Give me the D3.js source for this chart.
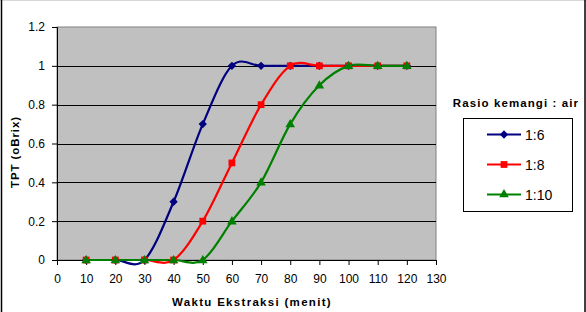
<!DOCTYPE html>
<html>
<head>
<meta charset="utf-8">
<script src="https://cdn.jsdelivr.net/npm/d3@7"></script>
<style>
  body { margin: 0; background: #fff; }
  text { font-family: "Liberation Sans", Arial, sans-serif; }
</style>
</head>
<body>
<div class="chart"></div>
<script>
var svgWidth = 586;
var svgHeight = 312;

// data
var waktu = [10, 20, 30, 40, 50, 60, 70, 80, 90, 100, 110, 120];
var rasio16 = [0, 0, 0, 0.3, 0.7, 1.0, 1.0, 1.0, 1.0, 1.0, 1.0, 1.0];
var rasio18 = [0, 0, 0, 0, 0.2, 0.5, 0.8, 1.0, 1.0, 1.0, 1.0, 1.0];
var rasio110 = [0, 0, 0, 0, 0, 0.2, 0.4, 0.7, 0.9, 1.0, 1.0, 1.0];
var seriesNames = ["1:6", "1:8", "1:10"];
var xTicks = d3.range(0, 131, 10);
var yTicks = [0, 0.2, 0.4, 0.6, 0.8, 1, 1.2];

var series = [
  { name: seriesNames[0], values: rasio16, color: "#000080", symbol: d3.symbolDiamond2, size: 44 },
  { name: seriesNames[1], values: rasio18, color: "#FF0000", symbol: d3.symbolSquare, size: 46 },
  { name: seriesNames[2], values: rasio110, color: "#008000", symbol: d3.symbolTriangle, size: 40 }
];

var plot = { left: 57, top: 27, right: 436, bottom: 260 };

var svg = d3.select(".chart")
  .append("svg")
  .attr("width", svgWidth)
  .attr("height", svgHeight);

// chart area border
svg.append("line").attr("x1", 0).attr("x2", svgWidth).attr("y1", 0.5).attr("y2", 0.5)
  .attr("stroke", "#d8d8d8");
svg.append("line").attr("x1", 1.5).attr("x2", 1.5).attr("y1", 0).attr("y2", svgHeight)
  .attr("stroke", "#000").attr("stroke-width", 1.5);
svg.append("line").attr("x1", 585).attr("x2", 585).attr("y1", 0).attr("y2", svgHeight)
  .attr("stroke", "#000").attr("stroke-width", 1.5);

var x = d3.scaleLinear().domain([0, 130]).range([plot.left, plot.right]);
var y = d3.scaleLinear().domain([0, 1.2]).range([plot.bottom, plot.top]);

// plot area
svg.append("rect")
  .attr("x", plot.left)
  .attr("y", plot.top)
  .attr("width", plot.right - plot.left)
  .attr("height", plot.bottom - plot.top)
  .attr("fill", "#C0C0C0")
  .attr("stroke", "#808080")
  .attr("stroke-width", 1);

// gridlines
svg.append("g")
  .selectAll("line")
  .data(yTicks.filter(d => d > 0 && d < 1.2))
  .enter()
  .append("line")
  .attr("x1", plot.left)
  .attr("x2", plot.right)
  .attr("y1", d => Math.round(y(d)) + 0.5)
  .attr("y2", d => Math.round(y(d)) + 0.5)
  .attr("stroke", "#000")
  .attr("stroke-width", 1);

// axes
var bottomAxis = d3.axisBottom(x).tickValues(xTicks).tickSize(5).tickPadding(9).tickFormat(d3.format("d"));
var leftAxis = d3.axisLeft(y).tickValues(yTicks).tickSize(5).tickPadding(7).tickFormat(d => d3.format("")(d));

var gx = svg.append("g")
  .attr("transform", `translate(0, ${plot.bottom})`)
  .call(bottomAxis);
var gy = svg.append("g")
  .attr("transform", `translate(${plot.left}, 0)`)
  .call(leftAxis);

[gx, gy].forEach(function(g) {
  g.select(".domain").attr("stroke", "#000");
  g.selectAll(".tick line").attr("stroke", "#000");
  g.selectAll(".tick text")
    .attr("fill", "#000")
    .style("font-size", "12px")
    .style("font-family", "'Liberation Sans', Arial, sans-serif");
});
gx.select(".domain").attr("d", `M${plot.left},0.5H${plot.right}`);

// lines
var line = d3.line()
  .x((d, i) => x(waktu[i]))
  .y(d => y(d))
  .curve(d3.curveCatmullRom.alpha(0));

series.forEach(function(s) {
  svg.append("path")
    .datum(s.values)
    .attr("fill", "none")
    .attr("stroke", s.color)
    .attr("stroke-width", 2.2)
    .attr("d", line);
});

series.forEach(function(s) {
  svg.append("g")
    .selectAll("path")
    .data(s.values)
    .enter()
    .append("path")
    .attr("transform", (d, i) => `translate(${x(waktu[i])}, ${y(d) + (s.symbol === d3.symbolTriangle ? 0.5 : 0)})`)
    .attr("d", d3.symbol().type(s.symbol).size(s.size))
    .attr("fill", s.color);
});

// axis titles
svg.append("text")
  .attr("x", 252)
  .attr("y", 306)
  .attr("text-anchor", "middle")
  .style("font-size", "11.5px")
  .style("font-weight", "bold")
  .style("letter-spacing", "1.3px")
  .text("Waktu Ekstraksi (menit)");

svg.append("text")
  .attr("transform", `translate(19, 152) rotate(-90)`)
  .attr("text-anchor", "middle")
  .style("font-size", "11.5px")
  .style("font-weight", "bold")
  .style("letter-spacing", "0.9px")
  .text("TPT (oBrix)");

// legend
svg.append("text")
  .attr("x", 516)
  .attr("y", 107)
  .attr("text-anchor", "middle")
  .style("font-size", "11.5px")
  .style("font-weight", "bold")
  .style("letter-spacing", "1.1px")
  .text("Rasio kemangi : air");

svg.append("rect")
  .attr("x", 463.5)
  .attr("y", 118.5)
  .attr("width", 109)
  .attr("height", 93)
  .attr("fill", "#fff")
  .attr("stroke", "#000");

var legend = svg.append("g")
  .selectAll("g")
  .data(series)
  .enter()
  .append("g")
  .attr("transform", (d, i) => `translate(0, ${134.5 + i * 30})`);

legend.append("line")
  .attr("x1", 487).attr("x2", 521)
  .attr("stroke", d => d.color)
  .attr("stroke-width", 2.2);
legend.append("path")
  .attr("transform", "translate(504, 0)")
  .attr("d", d => d3.symbol().type(d.symbol).size(d.size)())
  .attr("fill", d => d.color);
legend.append("text")
  .attr("x", 525)
  .attr("y", 5)
  .style("font-size", "14px")
  .text(d => d.name);
</script>
</body>
</html>
